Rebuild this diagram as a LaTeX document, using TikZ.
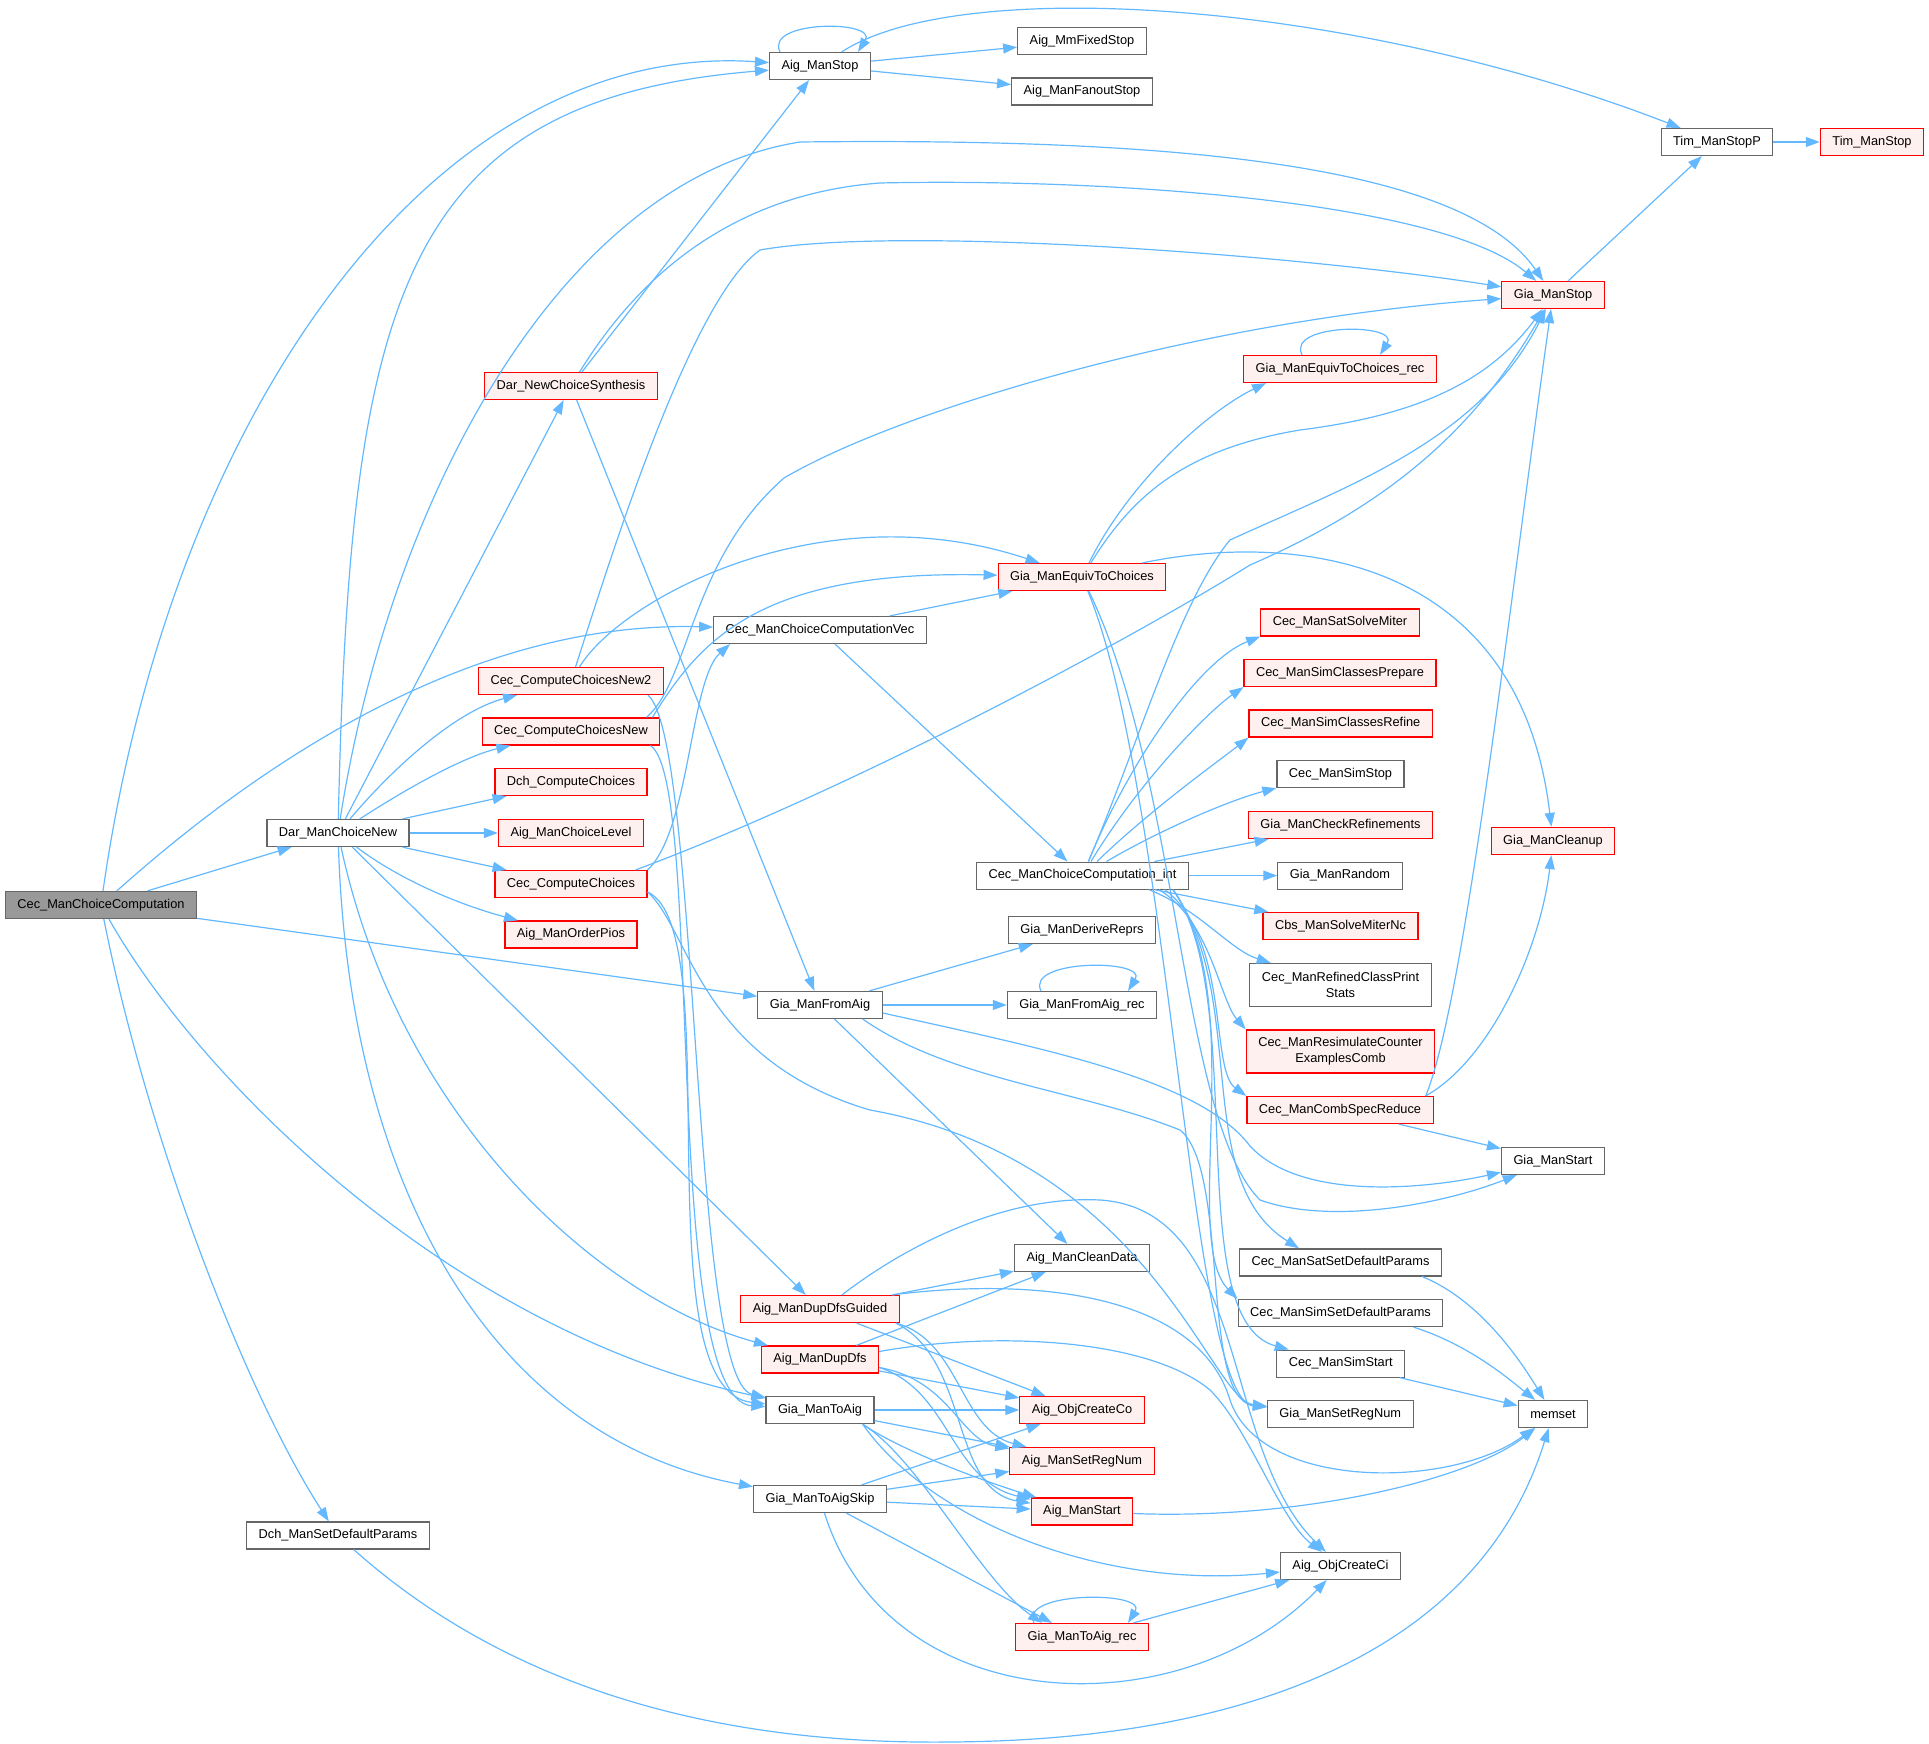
\documentclass[tikz,border=0pt]{standalone}
\usepackage{fontspec}
\setmainfont{Liberation Sans}
\usetikzlibrary{arrows.meta}

\begin{document}
\begin{tikzpicture}[x=0.5pt,y=-0.5pt,
    fn/.style={draw=nodegray,fill=white,line width=0.6pt,font=\fontsize{6.4}{8}\selectfont,
      inner xsep=6pt,inner ysep=0pt,minimum height=13.5pt,align=center},
    fnred/.style={fn,draw=red,fill=redfill},
    fnmain/.style={fn,fill=maingray},
    tall/.style={minimum height=21.5pt},
    edge/.style={draw=edgeblue,line width=0.6pt,-{Triangle[length=7pt,width=5pt]}}]
    \definecolor{edgeblue}{HTML}{63B8FF}
    \definecolor{nodegray}{HTML}{666666}
    \definecolor{redfill}{HTML}{FFF0F0}
    \definecolor{maingray}{HTML}{999999}
    \useasboundingbox (0,0) rectangle (1929,1744);

    \node[fnmain] (cmc) at (101,905) {Cec\_ManChoiceComputation};
    \foreach \n/\x/\y/\t in {
      dmn/338/833/Dar\_ManChoiceNew,
      dchp/338/1535.5/Dch\_ManSetDefaultParams,
      ams/820/66/Aig\_ManStop,
      vec/820/630/Cec\_ManChoiceComputationVec,
      gmfa/820/1005/Gia\_ManFromAig,
      gmta/820/1410/Gia\_ManToAig,
      gmtas/820/1499/Gia\_ManToAigSkip,
      mfs/1082/41/Aig\_MmFixedStop,
      afs/1082/91.5/Aig\_ManFanoutStop,
      cint/1082.5/875.6/Cec\_ManChoiceComputation\_int,
      gdr/1082/930/Gia\_ManDeriveReprs,
      gfar/1082/1005/Gia\_ManFromAig\_rec,
      acd/1082/1258/Aig\_ManCleanData,
      css/1340.5/774/Cec\_ManSimStop,
      gr/1340/875.6/Gia\_ManRandom,
      cssd/1340.5/1262.4/Cec\_ManSatSetDefaultParams,
      csimsd/1340.5/1313/Cec\_ManSimSetDefaultParams,
      csims/1340.7/1363.6/Cec\_ManSimStart,
      gsrn/1340.3/1414/Gia\_ManSetRegNum,
      aoci/1340.5/1566/Aig\_ObjCreateCi,
      gst/1553/1161/Gia\_ManStart,
      mem/1553/1414/memset,
      timp/1717/142/Tim\_ManStopP} {
      \node[fn] (\n) at (\x,\y) {\t};
    }
    \foreach \n/\x/\y/\t in {
      dncs/571/386/Dar\_NewChoiceSynthesis,
      ccn2/571/681/Cec\_ComputeChoicesNew2,
      ccn/571/731.5/Cec\_ComputeChoicesNew,
      dcc/571/782/Dch\_ComputeChoices,
      amcl/571/833/Aig\_ManChoiceLevel,
      ccc/571/884/Cec\_ComputeChoices,
      amop/571/934.5/Aig\_ManOrderPios,
      amddg/820/1309/Aig\_ManDupDfsGuided,
      amdd/820/1359.5/Aig\_ManDupDfs,
      getc/1082/577/Gia\_ManEquivToChoices,
      aco/1082/1410/Aig\_ObjCreateCo,
      asrn/1082/1461/Aig\_ManSetRegNum,
      ast/1082/1511.5/Aig\_ManStart,
      gtar/1082/1637/Gia\_ManToAig\_rec,
      getcr/1340/369/Gia\_ManEquivToChoices\_rec,
      cssm/1340/622.5/Cec\_ManSatSolveMiter,
      cscp/1340/673/Cec\_ManSimClassesPrepare,
      cscr/1340.7/723.5/Cec\_ManSimClassesRefine,
      gcr/1340.5/825/Gia\_ManCheckRefinements,
      cbs/1340.5/926/Cbs\_ManSolveMiterNc,
      ccsr/1340/1110/Cec\_ManCombSpecReduce,
      gms/1553/295/Gia\_ManStop,
      gcl/1553/841/Gia\_ManCleanup,
      tim/1872/142/Tim\_ManStop} {
      \node[fnred] (\n) at (\x,\y) {\t};
    }
    \node[fn,tall] (crcp) at (1340.5,985) {Cec\_ManRefinedClassPrint\\Stats};
    \node[fnred,tall] (crce) at (1340.5,1051.5) {Cec\_ManResimulateCounter\\ExamplesComb};

    \draw[edge] (cmc) .. controls (170,420) and (430,40) .. (ams);
    \draw[edge] (cmc) .. controls (230,790) and (450,620) .. (vec);
    \draw[edge] (cmc) -- (dmn);
    \draw[edge] (cmc) -- (gmfa);
    \draw[edge] (cmc) .. controls (200,1080) and (450,1330) .. (gmta);
    \draw[edge] (cmc) .. controls (150,1150) and (250,1400) .. (dchp);

    \draw[edge] (dmn) .. controls (350,300) and (400,100) .. (ams);
    \draw[edge] (dmn) .. controls (390,500) and (560,180) .. (800,142) .. controls (1150,138) and (1460,160) .. (gms);
    \draw[edge] (dmn) -- (dncs);
    \draw[edge] (dmn) .. controls (400,760) and (460,710) .. (ccn2);
    \draw[edge] (dmn) .. controls (420,780) and (470,755) .. (ccn);
    \draw[edge] (dmn) -- (dcc);
    \draw[edge] (dmn) -- (amcl);
    \draw[edge] (dmn) -- (ccc);
    \draw[edge] (dmn) .. controls (400,880) and (460,905) .. (amop);
    \draw[edge] (dmn) -- (amddg);
    \draw[edge] (dmn) .. controls (400,1120) and (600,1300) .. (amdd);
    \draw[edge] (dmn) .. controls (350,1200) and (500,1440) .. (gmtas);

    \draw[edge] (dncs) -- (ams);
    \draw[edge] (dncs) .. controls (630,290) and (720,195) .. (880,183) .. controls (1100,178) and (1440,200) .. (gms);
    \draw[edge] (dncs) -- (gmfa);

    \draw[edge] ([xshift=-20pt]ams.north) .. controls +(-8pt,16pt) and +(10pt,16pt) .. ([xshift=19pt]ams.north);
    \draw[edge] (ams) -- (mfs);
    \draw[edge] (ams) -- (afs);
    \draw[edge] (ams) .. controls (960,-25) and (1350,0) .. (timp);
    \draw[edge] (timp) -- (tim);
    \draw[edge] (gms) -- (timp);

    \draw[edge] (ccn2) .. controls (610,560) and (690,300) .. (760,250) .. controls (900,225) and (1300,255) .. (gms);
    \draw[edge] (ccn2) .. controls (620,600) and (820,490) .. (getc);
    \draw[edge] ([xshift=-8pt]ccn2.south east) .. controls (700,740) and (690,1380) .. (gmta);
    \draw[edge] ([xshift=-7pt]ccn.north east) .. controls (690,680) and (690,560) .. (784,478) .. controls (900,410) and (1200,320) .. (gms);
    \draw[edge] ([xshift=-4pt]ccn.north east) .. controls (700,640) and (760,570) .. (getc);
    \draw[edge] ([xshift=-5pt]ccn.south east) .. controls (705,780) and (660,1400) .. (gmta);
    \draw[edge] (ccc.north east) .. controls (690,830) and (690,680) .. ([xshift=-45pt]vec.south);
    \draw[edge] ([xshift=-6pt]ccc.north east) .. controls (850,790) and (1130,640) .. (1250,565) .. controls (1400,500) and (1480,420) .. (gms);
    \draw[edge] ([yshift=-4pt]ccc.east) .. controls (730,930) and (640,1390) .. (gmta);
    \draw[edge] ([yshift=-4pt]ccc.east) .. controls (690,930) and (700,1060) .. (870,1110) .. controls (1150,1160) and (1210,1400) .. (gsrn);

    \draw[edge] (vec) -- (getc);
    \draw[edge] (vec) -- (cint);

    \draw[edge] (getc) .. controls (1130,480) and (1210,410) .. ([xshift=-37pt]getcr.south);
    \draw[edge] ([xshift=-19pt]getcr.north) .. controls +(-8pt,16pt) and +(10pt,16pt) .. ([xshift=20pt]getcr.north);
    \draw[edge] (getc) .. controls (1130,500) and (1180,450) .. (1300,430) .. controls (1420,415) and (1490,380) .. (gms);
    \draw[edge] ([xshift=-12pt]getc.north east) .. controls (1300,530) and (1520,560) .. (gcl);
    \draw[edge] (getc) .. controls (1180,780) and (1180,1120) .. (1260,1200) .. controls (1330,1225) and (1440,1205) .. (gst);
    \draw[edge] (getc) .. controls (1170,790) and (1190,1400) .. (gsrn);

    \draw[edge] (cint) .. controls (1130,760) and (1200,660) .. (cssm.south west);
    \draw[edge] (cint) .. controls (1140,780) and (1210,710) .. (cscp.south west);
    \draw[edge] (cint) .. controls (1150,810) and (1220,760) .. (cscr.south west);
    \draw[edge] (cint) .. controls (1160,830) and (1230,800) .. (css.south west);
    \draw[edge] (cint) -- (gcr);
    \draw[edge] (cint) -- (gr);
    \draw[edge] (cint) -- (cbs);
    \draw[edge] ([xshift=-20pt]cint.south east) .. controls (1200,910) and (1230,950) .. (crcp);
    \draw[edge] ([xshift=-15pt]cint.south east) .. controls (1210,920) and (1220,1000) .. (crce.north west);
    \draw[edge] ([xshift=-12pt]cint.south east) .. controls (1230,940) and (1210,1070) .. (ccsr.north west);
    \draw[edge] (cint) .. controls (1140,740) and (1180,600) .. (1230,540) .. controls (1350,485) and (1480,440) .. (gms);
    \draw[edge] ([xshift=-8pt]cint.south east) .. controls (1250,1000) and (1190,1180) .. ([xshift=30pt]cssd.north west);
    \draw[edge] ([xshift=-8pt]cint.south east) .. controls (1250,1000) and (1180,1240) .. (csimsd.north west);
    \draw[edge] ([xshift=-8pt]cint.south east) .. controls (1250,1000) and (1180,1320) .. (csims);

    \draw[edge] ([xshift=-4pt]ccsr.north east) .. controls (1465,1000) and (1510,600) .. (gms);
    \draw[edge] ([xshift=-4pt]ccsr.north east) .. controls (1490,1060) and (1540,950) .. (gcl);
    \draw[edge] (ccsr) -- (gst);

    \draw[edge] (gmfa) -- (gdr);
    \draw[edge] (gmfa) -- (gfar);
    \draw[edge] ([xshift=-20.5pt]gfar.north) .. controls +(-8pt,16pt) and +(10pt,16pt) .. ([xshift=23pt]gfar.north);
    \draw[edge] (gmfa) -- (acd);
    \draw[edge] ([yshift=-4pt]gmfa.east) .. controls (1050,1050) and (1200,1080) .. (1250,1146) .. controls (1300,1200) and (1420,1190) .. (gst);
    \draw[edge] ([xshift=-10pt]gmfa.south east) .. controls (950,1080) and (1080,1090) .. (1180,1130) .. controls (1230,1170) and (1200,1400) .. (gsrn);

    \draw[edge] (amddg) -- (acd);
    \draw[edge] (amddg) -- (aco);
    \draw[edge] ([xshift=-2pt]amddg.south east) .. controls (960,1340) and (960,1430) .. (asrn);
    \draw[edge] ([xshift=-2pt]amddg.south east) .. controls (970,1360) and (950,1490) .. (ast);
    \draw[edge] ([xshift=11pt]amddg.north) .. controls (900,1250) and (1000,1195) .. (1100,1200) .. controls (1250,1210) and (1220,1450) .. (aoci);
    \draw[edge] ([xshift=-4pt]amddg.north east) .. controls (1050,1275) and (1200,1300) .. (1230,1400) .. controls (1260,1490) and (1450,1490) .. (mem);

    \draw[edge] (amdd) -- (acd);
    \draw[edge] (amdd) -- (aco);
    \draw[edge] ([yshift=-4pt]amdd.east) .. controls (950,1380) and (960,1440) .. (asrn);
    \draw[edge] ([yshift=-4pt]amdd.east) .. controls (950,1390) and (950,1480) .. (ast);
    \draw[edge] ([yshift=4pt]amdd.east) .. controls (1000,1330) and (1150,1340) .. (1210,1390) .. controls (1250,1430) and (1280,1520) .. (aoci);

    \draw[edge] (gmta) -- (aco);
    \draw[edge] (gmta) -- (asrn);
    \draw[edge] ([xshift=-6pt]gmta.south east) .. controls (900,1450) and (980,1480) .. (ast);
    \draw[edge] ([xshift=-6pt]gmta.south east) .. controls (920,1460) and (980,1580) .. ([xshift=-20pt]gtar.north);
    \draw[edge] ([xshift=-6pt]gmta.south east) .. controls (930,1520) and (1100,1590) .. (aoci);

    \draw[edge] (gmtas) -- (aco);
    \draw[edge] (gmtas) -- (asrn);
    \draw[edge] (gmtas) -- (ast);
    \draw[edge] (gmtas) -- ([xshift=-15pt]gtar.north);
    \draw[edge] (gmtas) .. controls (890,1720) and (1180,1730) .. (aoci);

    \draw[edge] ([xshift=-24pt]gtar.north) .. controls +(-8pt,16pt) and +(10pt,16pt) .. ([xshift=23pt]gtar.north);
    \draw[edge] (gtar) -- (aoci);

    \draw[edge] (ast) .. controls (1300,1520) and (1470,1480) .. (mem);
    \draw[edge] ([xshift=-10pt]cssd.south east) .. controls (1480,1300) and (1520,1360) .. (mem);
    \draw[edge] ([xshift=-15pt]csimsd.south east) .. controls (1470,1345) and (1510,1380) .. (mem);
    \draw[edge] (csims) -- (mem);
    \draw[edge] (dchp) .. controls (500,1680) and (700,1745) .. (950,1742) .. controls (1250,1740) and (1480,1650) .. (mem);
\end{tikzpicture}
\end{document}
